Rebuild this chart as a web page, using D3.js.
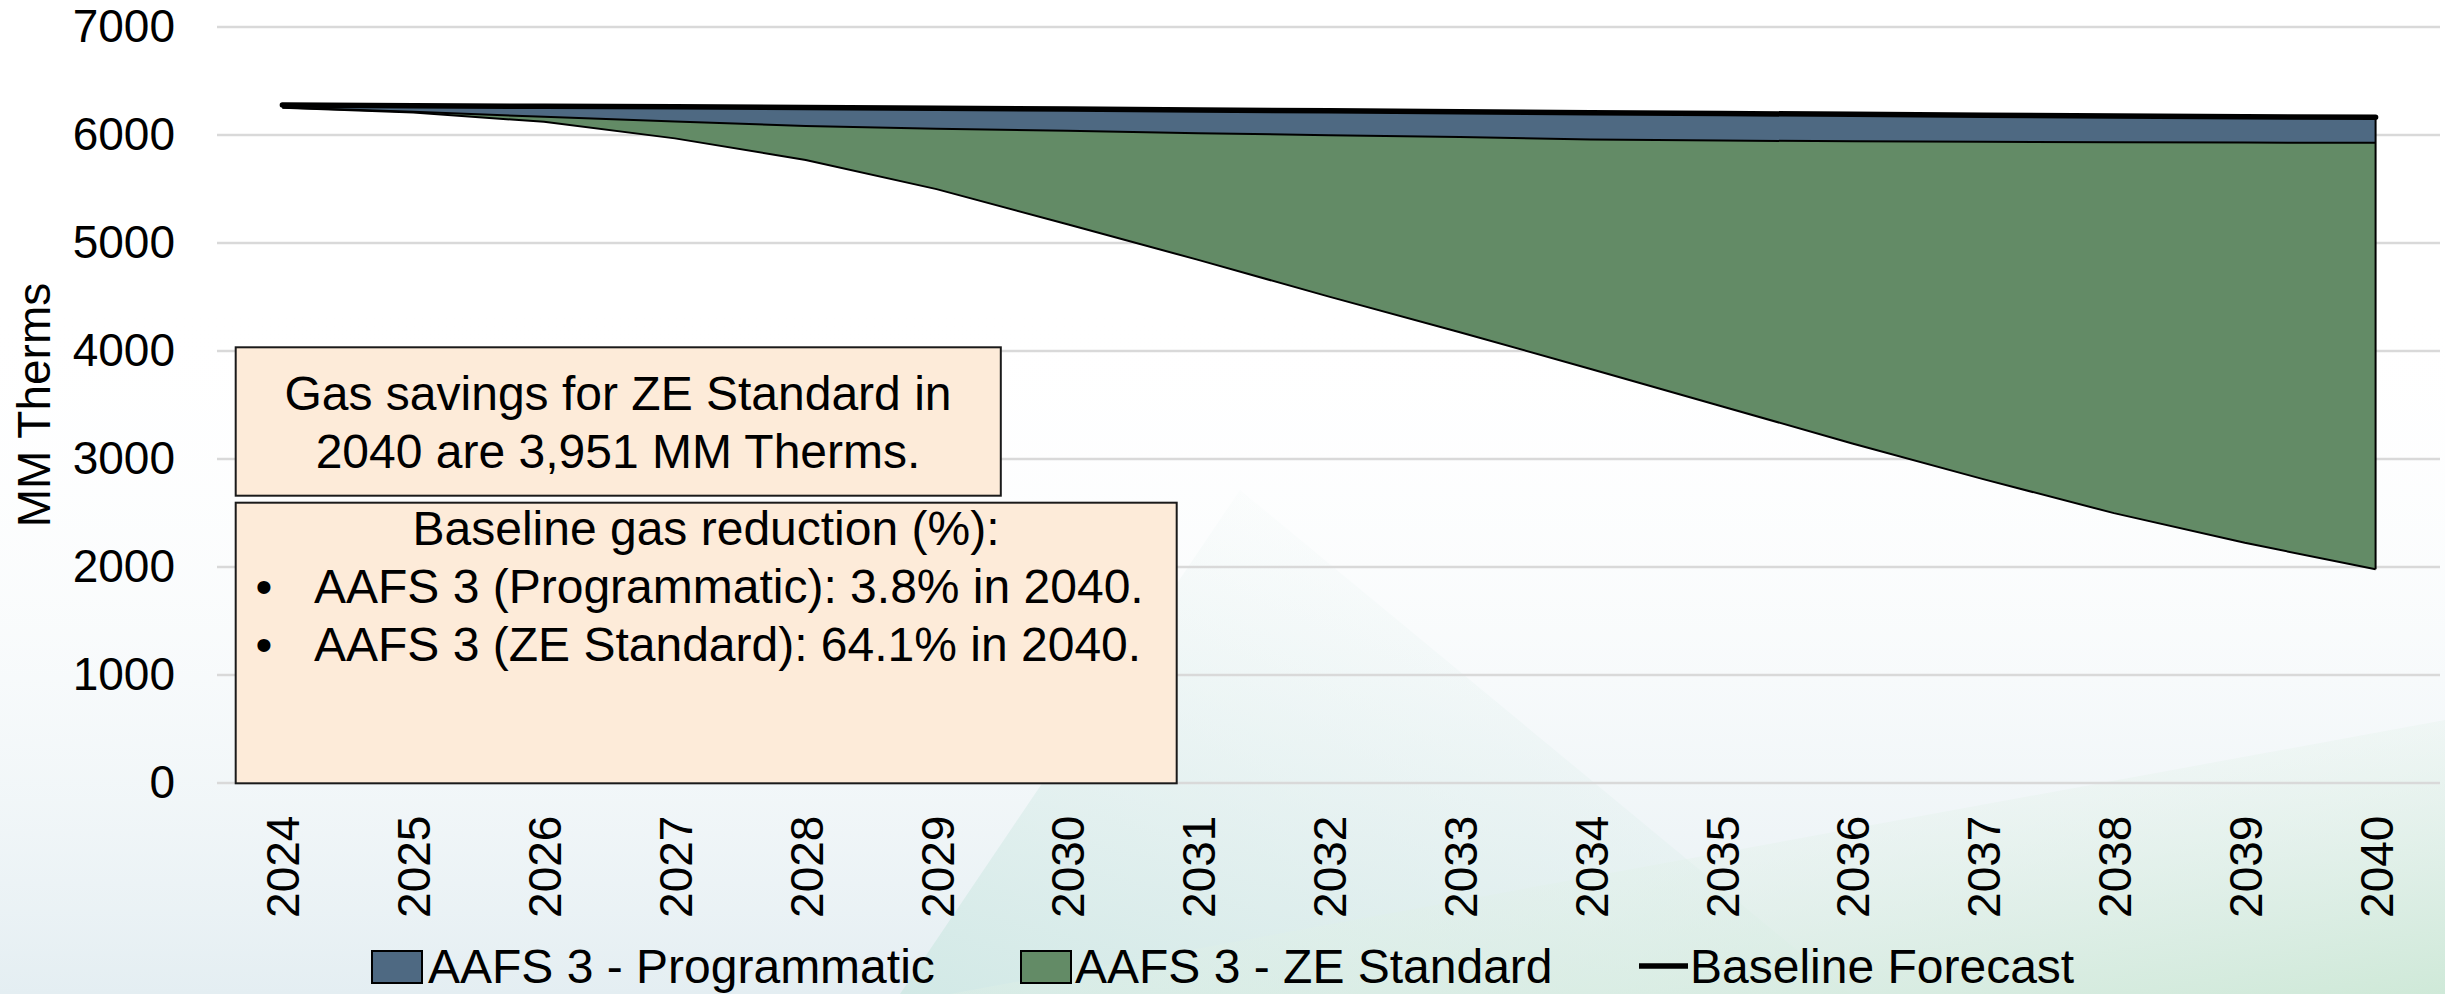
<!DOCTYPE html>
<html><head><meta charset="utf-8">
<script src="https://cdn.jsdelivr.net/npm/d3@7"></script>
<style>
html,body{margin:0;padding:0;background:#fff;}
svg{display:block;}
text{font-family:"Liberation Sans", Arial, sans-serif;fill:#000;}
</style>
</head><body>
<svg id="c" width="2445" height="994"></svg>
<script>
// ---------- data ----------
const years = [2024,2025,2026,2027,2028,2029,2030,2031,2032,2033,2034,2035,2036,2037,2038,2039,2040];
const baselineForecast     = [6274,6268,6262,6257,6250,6244,6237,6228,6220,6211,6203,6195,6188,6180,6173,6166,6160];
const programmaticForecast = [6250,6212,6165,6122,6080,6055,6035,6012,5995,5978,5955,5945,5938,5933,5929,5926,5925];
const zeStandardForecast   = [6248,6205,6118,5965,5765,5495,5170,4840,4500,4170,3830,3485,3140,2810,2495,2220,1975];
const yTicks = [0,1000,2000,3000,4000,5000,6000,7000];
const seriesNames = ["AAFS 3 - Programmatic","AAFS 3 - ZE Standard","Baseline Forecast"];
const seriesColors = ["#4e6982","#638b66","#000000"];
const yAxisTitle = "MM Therms";
const note1Lines = ["Gas savings for ZE Standard in","2040 are 3,951 MM Therms."];
const note2Title = "Baseline gas reduction (%):";
const note2Bullets = ["AAFS 3 (Programmatic): 3.8% in 2040.","AAFS 3 (ZE Standard): 64.1% in 2040."];

// ---------- layout ----------
const W = 2445, H = 994;
const plotL = 217, plotR = 2441, plotT = 26.6, plotB = 782.6;
const svg = d3.select("#c");
const defs = svg.append("defs");

// background
const g1 = defs.append("linearGradient").attr("id","bgTint").attr("x1","0").attr("y1","0").attr("x2","0").attr("y2","1");
g1.append("stop").attr("offset","0").attr("stop-color","#ffffff").attr("stop-opacity",0);
g1.append("stop").attr("offset","1").attr("stop-color","#e4eef2").attr("stop-opacity",1);
const g2 = defs.append("linearGradient").attr("id","bgGreen").attr("x1","1").attr("y1","1").attr("x2","0.3").attr("y2","0.2");
g2.append("stop").attr("offset","0").attr("stop-color","#cfe9d8").attr("stop-opacity",1);
g2.append("stop").attr("offset","1").attr("stop-color","#e9f4ee").attr("stop-opacity",0);
const g3 = defs.append("linearGradient").attr("id","bgTeal").attr("x1","0").attr("y1","1").attr("x2","0.6").attr("y2","0");
g3.append("stop").attr("offset","0").attr("stop-color","#d2e9e6").attr("stop-opacity",1);
g3.append("stop").attr("offset","1").attr("stop-color","#eaf4f2").attr("stop-opacity",0);

svg.append("rect").attr("width",W).attr("height",H).attr("fill","#ffffff");
svg.append("rect").attr("x",0).attr("y",300).attr("width",W).attr("height",H-300).attr("fill","url(#bgTint)");
svg.append("polygon").attr("points","900,994 1240,490 1850,994").attr("fill","url(#bgTeal)");
svg.append("polygon").attr("points","950,994 2445,720 2445,994").attr("fill","url(#bgGreen)");

// scales
const x = d3.scalePoint().domain(years).range([plotL, plotR]).padding(0.5);
const y = d3.scaleLinear().domain([0,7000]).range([plotB, plotT]);

// y axis with gridlines
const yAxis = svg.append("g").attr("transform",`translate(${plotL},0)`)
  .call(d3.axisLeft(y).tickValues(yTicks).tickSize(-(plotR-plotL-1)).tickPadding(42).tickFormat(d3.format("d")));
yAxis.select(".domain").remove();
yAxis.selectAll(".tick line").attr("stroke","#d9d9d9").attr("stroke-width",2.5);
yAxis.selectAll(".tick text").attr("font-size",46).attr("font-family","Liberation Sans, Arial, sans-serif").attr("fill","#000");

// x axis labels
const xAxis = svg.append("g").attr("transform",`translate(0,${plotB})`)
  .call(d3.axisBottom(x).tickSize(0).tickFormat(d3.format("d")));
xAxis.select(".domain").remove();
xAxis.selectAll(".tick text")
  .attr("font-size",46).attr("font-family","Liberation Sans, Arial, sans-serif").attr("fill","#000")
  .attr("text-anchor","end").attr("dy","0.36em")
  .attr("transform","translate(0,33) rotate(-90)").attr("x",0).attr("y",0);

// areas
const idx = d3.range(years.length);
const blueArea = d3.area().x(i=>x(years[i])).y0(i=>y(programmaticForecast[i])).y1(i=>y(baselineForecast[i]));
const greenArea = d3.area().x(i=>x(years[i])).y0(i=>y(zeStandardForecast[i])).y1(i=>y(programmaticForecast[i]));
svg.append("path").datum(idx).attr("d",greenArea).attr("fill",seriesColors[1]);
svg.append("path").datum(idx).attr("d",blueArea).attr("fill",seriesColors[0]);
const line = arr => d3.line().x(i=>x(years[i])).y(i=>y(arr[i]));
svg.append("path").datum(idx).attr("d",line(zeStandardForecast)).attr("fill","none").attr("stroke","#000").attr("stroke-width",2);
svg.append("path").datum(idx).attr("d",line(programmaticForecast)).attr("fill","none").attr("stroke","#000").attr("stroke-width",2);
const last = years.length-1;
svg.append("line").attr("x1",x(years[last])).attr("x2",x(years[last]))
  .attr("y1",y(baselineForecast[last])).attr("y2",y(zeStandardForecast[last])).attr("stroke","#000").attr("stroke-width",2);
svg.append("path").datum(idx).attr("d",line(baselineForecast)).attr("fill","none").attr("stroke","#000")
  .attr("stroke-width",5.5).attr("stroke-linecap","round");

// y axis title
svg.append("text").attr("transform","translate(50,405) rotate(-90)").attr("text-anchor","middle")
  .attr("font-size",46).text(yAxisTitle);

// note boxes
const fs = 48;
svg.append("rect").attr("x",235.7).attr("y",347.3).attr("width",1000.8-235.7).attr("height",495.7-347.3)
  .attr("fill","#fdebd9").attr("stroke","#1a1a1a").attr("stroke-width",2);
note1Lines.forEach((t,i)=>{
  svg.append("text").attr("x",618).attr("y",410+i*58).attr("text-anchor","middle").attr("font-size",fs).text(t);
});
svg.append("rect").attr("x",235.7).attr("y",502.7).attr("width",1176.7-235.7).attr("height",783.3-502.7)
  .attr("fill","#fdebd9").attr("stroke","#1a1a1a").attr("stroke-width",2);
svg.append("text").attr("x",706).attr("y",545).attr("text-anchor","middle").attr("font-size",fs).text(note2Title);
note2Bullets.forEach((t,i)=>{
  svg.append("text").attr("x",264).attr("y",603+i*57.5).attr("text-anchor","middle").attr("font-size",fs).text("•");
  svg.append("text").attr("x",314).attr("y",603+i*57.5).attr("font-size",fs).text(t);
});

// legend
const leg = svg.append("g");
const legY = 966;
const legItems = [
  {sx:372, tx:428},
  {sx:1021, tx:1075},
  {sx:1639, tx:1690}
];
legItems.forEach((it,i)=>{
  if(i<2){
    leg.append("rect").attr("x",it.sx).attr("y",legY-15).attr("width",50).attr("height",32)
      .attr("fill",seriesColors[i]).attr("stroke","#000").attr("stroke-width",2);
  } else {
    leg.append("line").attr("x1",it.sx).attr("x2",it.sx+49).attr("y1",legY).attr("y2",legY)
      .attr("stroke","#000").attr("stroke-width",5.5);
  }
  leg.append("text").attr("x",it.tx).attr("y",legY).attr("dy","0.35em").attr("font-size",48).text(seriesNames[i]);
});
</script>
</body></html>
